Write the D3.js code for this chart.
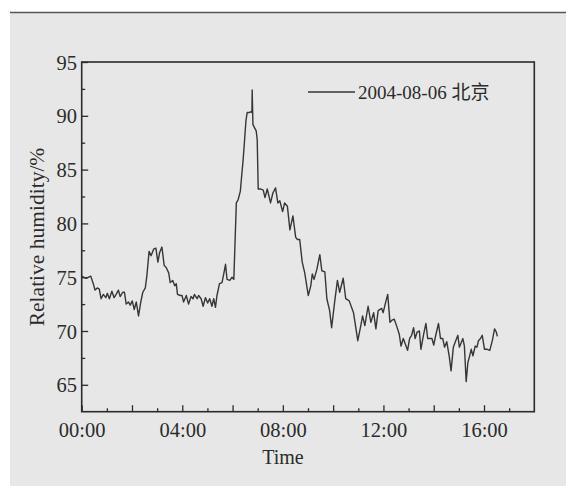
<!DOCTYPE html>
<html>
<head>
<meta charset="utf-8">
<script src="https://cdn.jsdelivr.net/npm/d3@7"></script>
<style>
  html, body { margin: 0; padding: 0; background: #ffffff; }
  svg { display: block; }
</style>
</head>
<body>
<div id="chart"></div>
<script>
// time of day in hours
const hours = [
  0.00, 0.17, 0.36, 0.46, 0.53, 0.62, 0.70, 0.77, 0.86, 0.96, 1.02, 1.10, 1.20, 1.29, 1.37, 1.46,
  1.53, 1.63, 1.70, 1.77, 1.86, 1.93, 2.01, 2.09, 2.17, 2.26, 2.35, 2.43, 2.53, 2.59, 2.68, 2.76,
  2.86, 2.95, 3.03, 3.10, 3.19, 3.28, 3.36, 3.46, 3.52, 3.62, 3.70, 3.76, 3.81, 3.92, 3.99, 4.05,
  4.16, 4.25, 4.35, 4.43, 4.48, 4.59, 4.65, 4.75, 4.83, 4.92, 5.01, 5.09, 5.18, 5.25, 5.32, 5.38,
  5.48, 5.58, 5.65, 5.72, 5.78, 5.89, 5.98, 6.05, 6.15, 6.22, 6.31, 6.35, 6.42, 6.47, 6.53, 6.58,
  6.67, 6.74, 6.77, 6.78, 6.81, 6.87, 6.94, 6.98, 7.02, 7.11, 7.22, 7.29, 7.38, 7.51, 7.60, 7.71,
  7.80, 7.88, 7.99, 8.07, 8.18, 8.28, 8.40, 8.51, 8.58, 8.67, 8.77, 8.87, 9.01, 9.11, 9.17, 9.24,
  9.35, 9.47, 9.55, 9.67, 9.75, 9.86, 9.94, 10.06, 10.17, 10.26, 10.40, 10.50, 10.64, 10.81, 10.98, 11.10,
  11.17, 11.26, 11.39, 11.50, 11.61, 11.70, 11.79, 11.93, 11.99, 12.06, 12.17, 12.26, 12.34, 12.43, 12.52, 12.63,
  12.70, 12.79, 12.87, 12.96, 13.04, 13.12, 13.20, 13.26, 13.34, 13.43, 13.49, 13.60, 13.69, 13.76, 13.85, 13.93,
  14.00, 14.09, 14.19, 14.27, 14.36, 14.43, 14.52, 14.62, 14.69, 14.78, 14.86, 14.96, 15.02, 15.16, 15.22, 15.29,
  15.36, 15.42, 15.49, 15.56, 15.65, 15.72, 15.78, 15.86, 15.93, 16.02, 16.13, 16.23, 16.33, 16.42, 16.49, 16.53,
];

// relative humidity, %
const humidity = [
  75.1, 74.9, 75.1, 74.4, 73.8, 74.0, 73.9, 73.0, 73.4, 73.1, 73.5, 73.0, 73.7, 73.1, 73.4, 73.8,
  73.2, 73.6, 73.6, 72.5, 72.7, 72.4, 72.8, 72.0, 72.7, 71.4, 72.7, 73.6, 74.0, 75.1, 77.4, 77.0,
  77.6, 77.7, 76.4, 77.3, 77.8, 76.1, 75.9, 75.4, 74.5, 74.7, 74.2, 74.4, 73.4, 73.3, 73.3, 72.7,
  73.3, 72.5, 73.2, 73.0, 73.4, 73.0, 73.3, 73.0, 72.3, 73.1, 72.6, 73.0, 72.3, 73.0, 72.2, 73.3,
  74.4, 74.5, 75.3, 76.2, 74.8, 74.7, 75.0, 74.8, 81.9, 82.2, 83.0, 84.1, 85.9, 87.5, 89.5, 90.3,
  90.3, 90.4, 90.3, 92.4, 89.2, 88.9, 88.6, 87.8, 83.2, 83.2, 83.1, 82.4, 83.2, 81.9, 82.8, 83.3,
  81.9, 82.1, 81.1, 81.9, 81.6, 79.4, 80.7, 78.7, 78.5, 78.5, 76.4, 75.4, 73.3, 74.2, 75.3, 74.8,
  75.7, 77.1, 75.6, 75.5, 73.0, 71.9, 70.3, 72.7, 74.7, 73.6, 74.9, 73.0, 72.8, 71.7, 69.1, 70.5,
  71.4, 70.5, 72.3, 70.8, 71.7, 70.2, 71.9, 72.1, 71.7, 72.4, 73.4, 70.8, 71.0, 71.1, 70.5, 69.7,
  68.6, 69.3, 68.8, 68.2, 69.3, 69.6, 70.3, 69.3, 69.9, 70.0, 68.3, 69.7, 70.7, 69.3, 69.3, 69.3,
  68.7, 69.7, 70.7, 69.3, 69.3, 68.5, 69.0, 67.6, 66.3, 68.5, 69.0, 69.6, 68.5, 69.3, 68.6, 65.3,
  67.1, 67.6, 68.3, 67.7, 68.6, 68.5, 69.1, 69.3, 69.6, 68.3, 68.3, 68.2, 69.1, 70.2, 69.9, 69.5,
];

const xTickValues = [0, 4, 8, 12, 16];
const xTickLabels = ['00:00', '04:00', '08:00', '12:00', '16:00'];
const yTickValues = [65, 70, 75, 80, 85, 90, 95];
const legendLabel = '2004-08-06 北京';

const width = 566;
const height = 486;
const plotLeft = 81.7;
const plotRight = 534.3;
const plotTop = 62;
const plotBottom = 411.7;

const font = '"Liberation Serif", "Times New Roman", "Noto Sans CJK SC", serif';
const ink = '#2b2b2b';

const svg = d3
  .select('#chart')
  .append('svg')
  .attr('width', width)
  .attr('height', height);

// scanned page: grey paper with a white margin and a rule at the top
svg.append('rect').attr('width', width).attr('height', height).attr('fill', '#ffffff');
svg.append('rect').attr('x', 10).attr('y', 12).attr('width', width - 10).attr('height', height - 12).attr('fill', '#e7e7e7');
svg.append('line')
  .attr('x1', 10).attr('x2', width)
  .attr('y1', 12.5).attr('y2', 12.5)
  .attr('stroke', '#555').attr('stroke-width', 1.5);

const xScale = d3.scaleLinear().domain([0, 18]).range([plotLeft, plotRight]);
const yScale = d3.scaleLinear().domain([62.5, 95]).range([plotBottom, plotTop]);

// inward ticks: major every 2 h / 5 %, minor every 1 h / 2.5 %
const xAxis = d3
  .axisBottom(xScale)
  .tickValues(d3.range(0, 18, 2))
  .tickSize(-6.5)
  .tickFormat((d) => {
    const i = xTickValues.indexOf(d);
    return i >= 0 ? xTickLabels[i] : '';
  });

const xMinor = d3.axisBottom(xScale).tickValues(d3.range(1, 18, 2)).tickSize(-3.5).tickFormat('');

const yAxis = d3.axisLeft(yScale).tickValues(yTickValues).tickSize(-6.5).tickFormat(d3.format('d'));
const yMinor = d3.axisLeft(yScale).tickValues(d3.range(67.5, 95, 5)).tickSize(-3.5).tickFormat('');

const styleAxis = (g) => {
  g.select('.domain').remove();
  g.selectAll('line').attr('stroke', ink).attr('stroke-width', 1.3);
  g.selectAll('text').attr('fill', ink).attr('font-family', font).attr('font-size', 20.5);
};

svg.append('g').attr('transform', `translate(0, ${plotBottom})`).call(xAxis).call(styleAxis)
  .selectAll('text').attr('y', 25.5).attr('dy', 0);
svg.append('g').attr('transform', `translate(0, ${plotBottom})`).call(xMinor).call(styleAxis);
svg.append('g').attr('transform', `translate(${plotLeft}, 0)`).call(yAxis).call(styleAxis)
  .selectAll('text').attr('x', -4.7).attr('dy', '0.35em');
svg.append('g').attr('transform', `translate(${plotLeft}, 0)`).call(yMinor).call(styleAxis);

// frame
svg.append('rect')
  .attr('x', plotLeft).attr('y', plotTop)
  .attr('width', plotRight - plotLeft).attr('height', plotBottom - plotTop)
  .attr('fill', 'none').attr('stroke', ink).attr('stroke-width', 1.6);

const line = d3
  .line()
  .x((d) => xScale(d[0]))
  .y((d) => yScale(d[1]));

svg.append('path')
  .datum(hours.map((h, i) => [h, humidity[i]]))
  .attr('fill', 'none')
  .attr('stroke', '#363636')
  .attr('stroke-width', 1.4)
  .attr('stroke-linejoin', 'round')
  .attr('d', line);

// legend
svg.append('line')
  .attr('x1', 308).attr('x2', 355)
  .attr('y1', 92).attr('y2', 92)
  .attr('stroke', '#363636').attr('stroke-width', 1.4);
svg.append('text')
  .attr('x', 358).attr('y', 99)
  .attr('fill', ink).attr('font-family', font).attr('font-size', 19)
  .text(legendLabel);

// axis titles
svg.append('text')
  .attr('x', 283).attr('y', 464)
  .attr('text-anchor', 'middle')
  .attr('fill', ink).attr('font-family', font).attr('font-size', 20)
  .text('Time');

svg.append('text')
  .attr('transform', 'translate(43.5, 237) rotate(-90)')
  .attr('text-anchor', 'middle')
  .attr('fill', ink).attr('font-family', font).attr('font-size', 21.5)
  .text('Relative humidity/%');
</script>
</body>
</html>
